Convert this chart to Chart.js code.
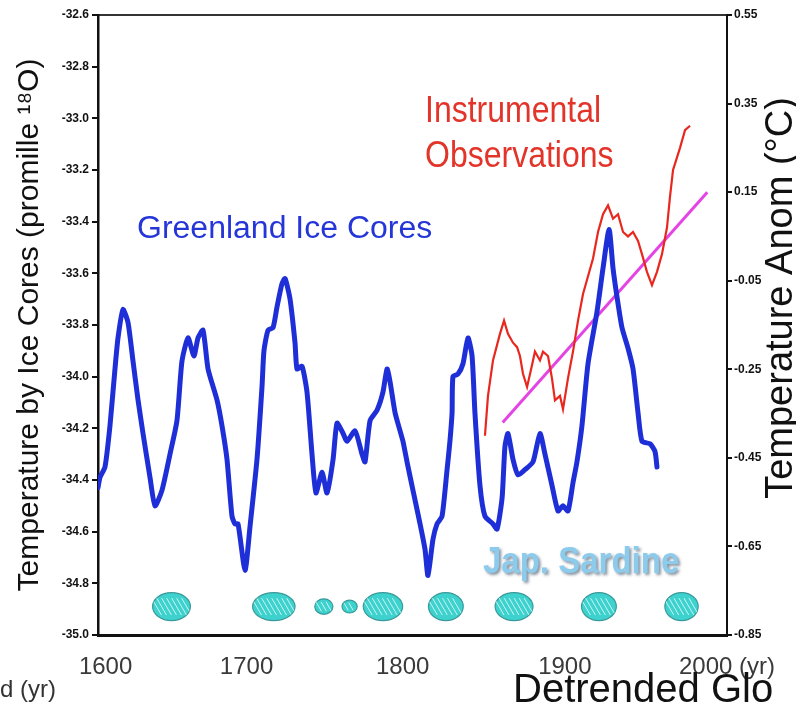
<!DOCTYPE html>
<html>
<head>
<meta charset="utf-8">
<script src="https://cdn.jsdelivr.net/npm/chart.js@4.4.1/dist/chart.umd.min.js"></script>
<style>
  html, body { margin: 0; padding: 0; background: #fff; }
  #wrap { position: relative; width: 796px; height: 702px; overflow: hidden; }
</style>
</head>
<body>
<div id="wrap"><canvas id="cv"></canvas></div>
<script>
const FONT = '"Liberation Sans", Arial, sans-serif'

// Greenland ice cores, left axis (promille 18O)
const iceYears = [1597.0,1598.3,1601.6,1604.9,1608.2,1610.2,1613.5,1616.8,1620.1,1623.4,
  1626.7,1631.3,1634.6,1639.2,1644.5,1649.1,1652.4,1656.4,1660.3,1663.0,
  1666.3,1669.6,1675.5,1678.8,1682.1,1685.4,1687.4,1689.4,1694.0,1697.3,
  1701.9,1705.2,1706.5,1709.2,1712.5,1715.1,1718.4,1720.4,1723.7,1727.0,
  1728.3,1731.6,1734.9,1738.2,1740.8,1744.8,1748.1,1752.1,1754.7,1758.7,
  1761.3,1766.6,1771.2,1773.2,1776.5,1781.1,1785.0,1787.7,1789.7,1793.0,
  1796.3,1798.2,1800.9,1804.8,1809.5,1812.8,1814.7,1818.0,1820.7,1824.0,
  1827.3,1829.2,1830.6,1831.2,1834.5,1837.8,1841.1,1843.8,1845.7,1849.0,
  1852.3,1857.6,1860.3,1863.6,1865.5,1867.5,1870.8,1874.1,1878.7,1884.0,
  1888.6,1891.9,1896.5,1900.5,1903.8,1907.1,1910.4,1913.0,1916.3,1920.3,
  1926.2,1930.2,1934.2,1936.8,1939.4,1942.7,1946.7,1950.0,1953.3,1955.9,
  1961.2,1964.5,1965.8]
const iceValues = [-34.43,-34.39,-34.35,-34.19,-33.97,-33.85,-33.74,-33.79,-33.94,-34.09,
  -34.22,-34.39,-34.50,-34.44,-34.30,-34.17,-33.94,-33.85,-33.92,-33.85,
  -33.82,-33.97,-34.09,-34.19,-34.32,-34.54,-34.57,-34.57,-34.75,-34.58,
  -34.32,-34.04,-33.90,-33.82,-33.81,-33.73,-33.64,-33.62,-33.70,-33.87,
  -33.97,-33.96,-34.06,-34.30,-34.45,-34.37,-34.45,-34.32,-34.18,-34.22,
  -34.25,-34.21,-34.30,-34.33,-34.17,-34.13,-34.06,-33.97,-34.02,-34.14,
  -34.21,-34.25,-34.33,-34.44,-34.57,-34.67,-34.77,-34.63,-34.57,-34.54,
  -34.36,-34.25,-34.14,-34.00,-33.99,-33.95,-33.85,-33.92,-34.14,-34.42,
  -34.54,-34.57,-34.59,-34.47,-34.27,-34.22,-34.32,-34.38,-34.36,-34.33,
  -34.22,-34.30,-34.42,-34.52,-34.50,-34.52,-34.41,-34.33,-34.19,-33.95,
  -33.75,-33.58,-33.43,-33.58,-33.69,-33.81,-33.89,-33.97,-34.14,-34.25,
  -34.26,-34.29,-34.35]

// instrumental observations, right axis (deg C)
const obsYears = [1852.3,1854.3,1857.6,1862.2,1864.9,1867.5,1870.8,1873.5,1875.4,1877.4,
  1880.1,1883.4,1885.3,1888.6,1890.6,1893.9,1896.5,1898.5,1901.8,1903.8,
  1907.1,1910.4,1913.7,1917.0,1920.3,1923.6,1926.9,1930.2,1933.5,1936.8,
  1940.1,1943.4,1946.7,1950.0,1953.3,1955.9,1959.2,1962.5,1965.8,1969.1,
  1972.4,1974.4,1976.4,1981.0,1984.3,1987.6]
const obsValues = [-0.40,-0.31,-0.23,-0.17,-0.14,-0.17,-0.19,-0.20,-0.22,-0.26,
  -0.29,-0.24,-0.21,-0.23,-0.21,-0.22,-0.27,-0.32,-0.31,-0.34,
  -0.27,-0.21,-0.14,-0.08,-0.04,0.00,0.06,0.10,0.12,0.09,
  0.10,0.06,0.05,0.06,0.04,0.01,-0.03,-0.06,-0.03,0.01,
  0.07,0.14,0.20,0.25,0.29,0.30]

// linear trend of the observations
const trendYears = [1864, 1999]
const trendValues = [-0.37, 0.15]

// Japanese sardine periods (start / end year), drawn at one level of the left axis
const sardineStart = [1633, 1699, 1740, 1758, 1772, 1815, 1859, 1916, 1971]
const sardineEnd = [1658, 1727, 1752, 1768, 1798, 1838, 1884, 1939, 1993]
const SARDINE_LEVEL = -34.89

const leftTicks = [-35.0, -34.8, -34.6, -34.4, -34.2, -34.0, -33.8, -33.6, -33.4, -33.2, -33.0, -32.8, -32.6]
const rightTicks = [-0.85, -0.65, -0.45, -0.25, -0.05, 0.15, 0.35, 0.55]
const yearTicks = [1602, 1695, 1798, 1905, 2012]
const yearLabels = ['1600', '1700', '1800', '1900', '2000 (yr)']

function toPoints(xs, ys) {
  return xs.map((x, i) => ({x: x, y: ys[i]}))
}

function text(ctx, str, x, y, font, color, sy) {
  ctx.save()
  ctx.translate(x, y)
  ctx.scale(1, sy || 1)
  ctx.font = font
  ctx.fillStyle = color
  ctx.fillText(str, 0, 0)
  ctx.restore()
}

const annotations = {
  id: 'annotations',
  afterDatasetsDraw(chart) {
    const ctx = chart.ctx
    const xs = chart.scales.x, ys = chart.scales.y
    // sardine blobs
    for (let i = 0; i < sardineStart.length; i++) {
      const x0 = xs.getPixelForValue(sardineStart[i])
      const x1 = xs.getPixelForValue(sardineEnd[i])
      const cx = (x0 + x1) / 2, cy = ys.getPixelForValue(SARDINE_LEVEL)
      const rx = (x1 - x0) / 2, ry = Math.min(14, rx * 0.85)
      ctx.save()
      ctx.beginPath()
      ctx.ellipse(cx, cy, rx, ry, 0, 0, Math.PI * 2)
      ctx.fillStyle = '#3ed2ce'
      ctx.fill()
      ctx.lineWidth = 1.2
      ctx.strokeStyle = '#3a9a9a'
      ctx.stroke()
      ctx.clip()
      ctx.strokeStyle = 'rgba(225,250,250,0.85)'
      ctx.lineWidth = 1
      for (let k = -rx + 4; k < rx - 2; k += 5) {
        ctx.beginPath()
        ctx.moveTo(cx + k - ry * 0.35, cy - ry * 0.6)
        ctx.lineTo(cx + k + ry * 0.35, cy + ry * 0.6)
        ctx.stroke()
      }
      ctx.restore()
    }

    ctx.save()
    ctx.textAlign = 'left'
    ctx.textBaseline = 'alphabetic'
    text(ctx, 'Greenland Ice Cores', 137, 238, '32px ' + FONT, '#2536d8', 0.97)
    text(ctx, 'Instrumental', 425, 122, '32px ' + FONT, '#e3342a', 1.15)
    text(ctx, 'Observations', 425, 167, '32px ' + FONT, '#e3342a', 1.15)
    ctx.shadowColor = 'rgba(50,70,90,0.6)'
    ctx.shadowOffsetX = 2
    ctx.shadowOffsetY = 2
    ctx.shadowBlur = 3
    text(ctx, 'Jap. Sardine', 483, 573, 'bold 33px ' + FONT, '#8ccbec', 1.12)
    ctx.restore()
  },
  afterDraw(chart) {
    const ctx = chart.ctx
    ctx.save()
    ctx.textBaseline = 'alphabetic'
    // right axis title reads bottom to top
    ctx.translate(792, 298)
    ctx.rotate(-Math.PI / 2)
    ctx.textAlign = 'center'
    ctx.font = '38px ' + FONT
    ctx.fillStyle = '#111'
    ctx.fillText('Temperature Anom (°C)', 0, 0)
    ctx.restore()

    ctx.save()
    ctx.textAlign = 'left'
    text(ctx, 'd (yr)', 0, 697, '24px ' + FONT, '#333')
    text(ctx, 'Detrended Glo', 513, 702, '40px ' + FONT, '#111')
    ctx.restore()
  }
}

new Chart(document.getElementById('cv'), {
  type: 'line',
  data: {
    datasets: [{
      label: 'Greenland Ice Cores',
      data: toPoints(iceYears, iceValues),
      yAxisID: 'y',
      borderColor: '#1f2fd8',
      borderWidth: 5,
      tension: 0.2,
      pointRadius: 0,
      borderJoinStyle: 'round',
      borderCapStyle: 'round'
    }, {
      label: 'Instrumental Observations',
      data: toPoints(obsYears, obsValues),
      yAxisID: 'y2',
      borderColor: '#e8281e',
      borderWidth: 2.2,
      tension: 0,
      pointRadius: 0
    }, {
      label: 'Trend',
      data: toPoints(trendYears, trendValues),
      yAxisID: 'y2',
      borderColor: '#e444e4',
      borderWidth: 3,
      pointRadius: 0
    }]
  },
  options: {
    responsive: true,
    maintainAspectRatio: false,
    animation: false,
    layout: { padding: 0 },
    plugins: { legend: { display: false }, tooltip: { enabled: false } },
    scales: {
      x: {
        type: 'linear', position: 'bottom', min: 1597, max: 2012,
        grid: { display: false, drawTicks: false },
        border: { color: '#111', width: 3 },
        afterBuildTicks: s => { s.ticks = yearTicks.map(v => ({value: v})) },
        afterFit: s => { s.height = 67 },
        ticks: {
          autoSkip: false, maxRotation: 0, padding: 18, color: '#3a3a3a',
          font: { family: FONT, size: 24 },
          callback: (v, i) => yearLabels[i]
        }
      },
      x2: {
        type: 'linear', position: 'top', min: 1597, max: 2012,
        grid: { display: false, drawTicks: false },
        border: { color: '#333', width: 2, dash: [40, 4] },
        ticks: { display: false },
        afterFit: s => { s.height = 15 }
      },
      y: {
        type: 'linear', position: 'left', min: -35.0, max: -32.6,
        afterBuildTicks: s => { s.ticks = leftTicks.map(v => ({value: v})) },
        afterFit: s => { s.width = 98 },
        grid: { display: true, drawOnChartArea: false, drawTicks: true, tickLength: 6, color: '#111', lineWidth: 2 },
        border: { color: '#111', width: 2.5 },
        ticks: {
          padding: 3, color: '#111',
          font: { family: FONT, size: 12, weight: 'bold' },
          callback: v => v.toFixed(1)
        },
        title: {
          display: true, text: 'Temperature by Ice Cores (promille ¹⁸O)', color: '#111',
          font: { family: FONT, size: 30 }, padding: { top: 12, bottom: 0 }
        }
      },
      y2: {
        type: 'linear', position: 'right', min: -0.85, max: 0.55,
        afterBuildTicks: s => { s.ticks = rightTicks.map(v => ({value: v})) },
        afterFit: s => { s.width = 69 },
        grid: { display: true, drawOnChartArea: false, drawTicks: true, tickLength: 5, color: '#111', lineWidth: 2 },
        border: { color: '#111', width: 2 },
        ticks: {
          padding: 2, color: '#111',
          font: { family: FONT, size: 12, weight: 'bold' },
          callback: v => v.toFixed(2)
        }
      }
    }
  },
  plugins: [annotations]
})
</script>
</body>
</html>
